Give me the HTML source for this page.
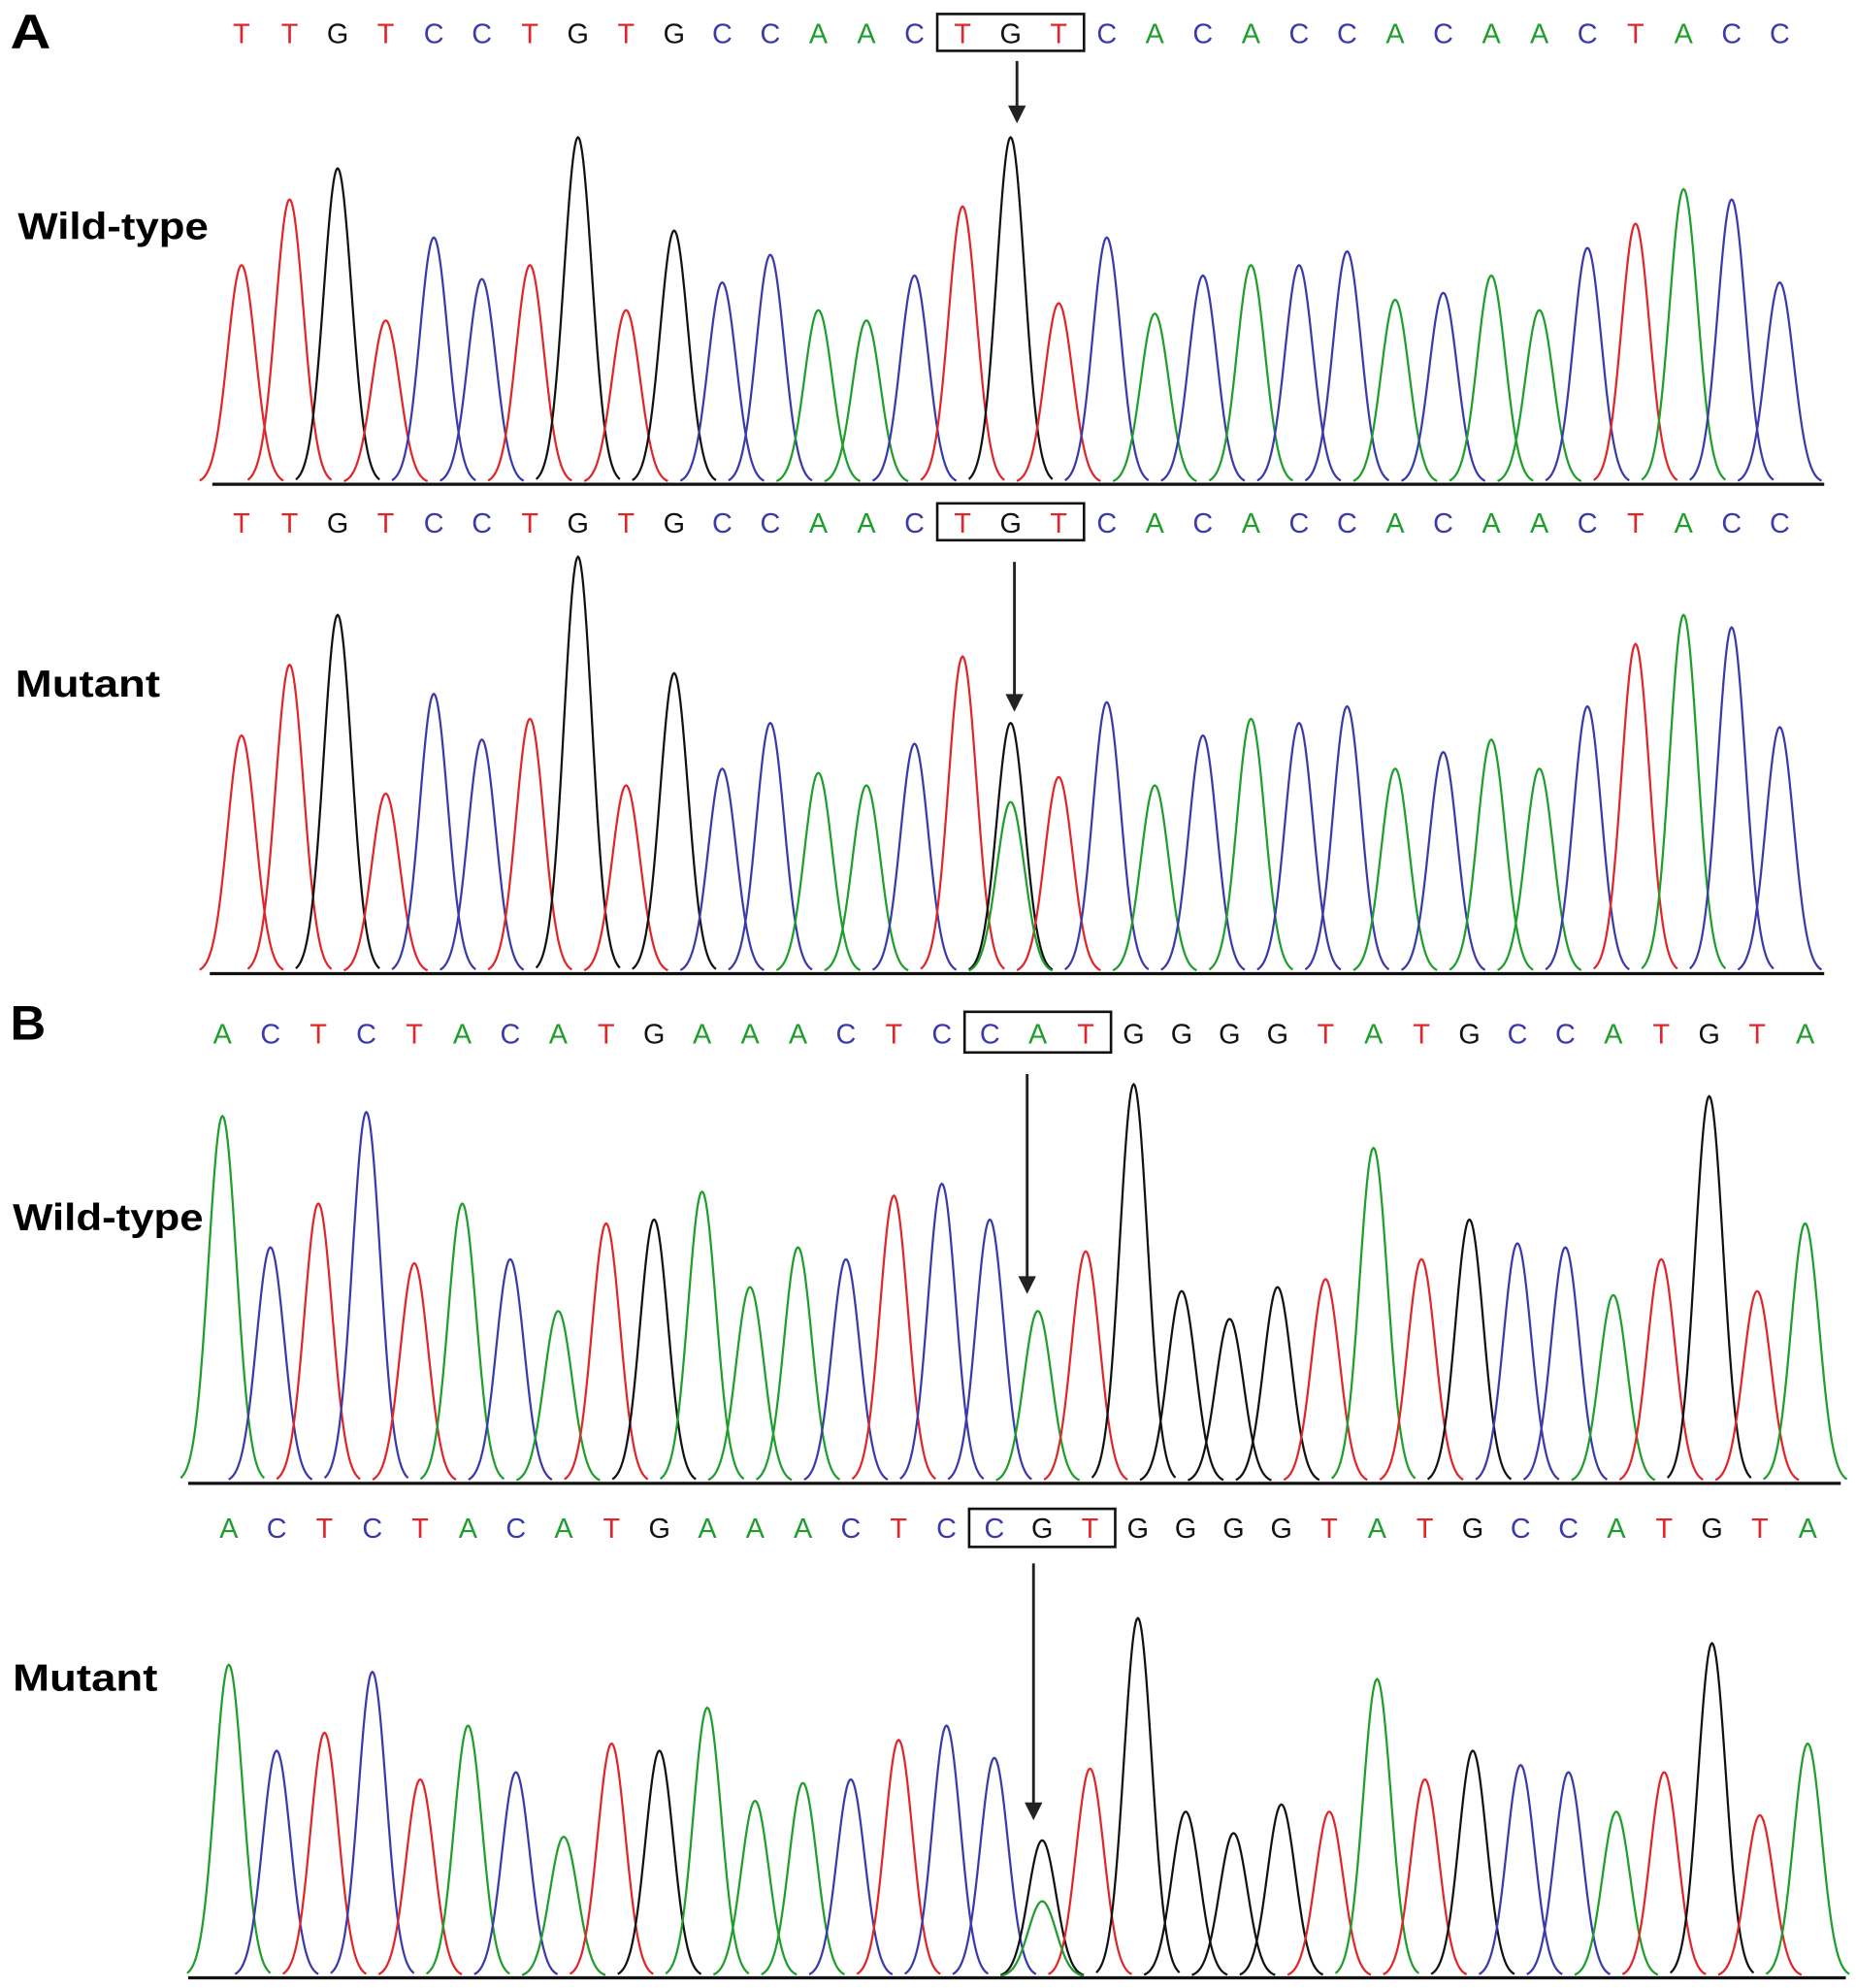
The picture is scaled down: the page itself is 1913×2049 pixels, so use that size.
<!DOCTYPE html>
<html><head><meta charset="utf-8"><style>
html,body{margin:0;padding:0;background:#fff}
svg{display:block}
</style></head><body>
<svg width="1913" height="2049" viewBox="0 0 1460 1564" preserveAspectRatio="none" xmlns="http://www.w3.org/2000/svg" id="fig">
<text x="8" y="38" font-family="Liberation Sans, sans-serif" font-weight="bold" font-size="38" textLength="32" lengthAdjust="spacingAndGlyphs">A</text>
<text x="8" y="818" font-family="Liberation Sans, sans-serif" font-weight="bold" font-size="38" textLength="28" lengthAdjust="spacingAndGlyphs">B</text>
<text x="14" y="188" font-family="Liberation Sans, sans-serif" font-weight="bold" font-size="30" textLength="150" lengthAdjust="spacingAndGlyphs">Wild-type</text>
<text x="12" y="548" font-family="Liberation Sans, sans-serif" font-weight="bold" font-size="30" textLength="114" lengthAdjust="spacingAndGlyphs">Mutant</text>
<text x="10" y="968" font-family="Liberation Sans, sans-serif" font-weight="bold" font-size="30" textLength="150" lengthAdjust="spacingAndGlyphs">Wild-type</text>
<text x="10" y="1330" font-family="Liberation Sans, sans-serif" font-weight="bold" font-size="30" textLength="114" lengthAdjust="spacingAndGlyphs">Mutant</text>
</svg>
<script>
// Sequences
const seqA = "TTGTCCTGTGCCAACTGTCACACCACAACTACC";
const seqB = "ACTCTACATGAAACTCCATGGGGTATGCCATGTA";
// Peak top heights (fraction of panel height)
const aWildHeights = [0.63,0.82,0.91,0.47,0.71,0.59,0.63,1.0,0.50,0.73,0.58,0.66,0.50,0.47,0.60,0.80,1.0,0.52,0.71,0.49,0.60,0.63,0.63,0.67,0.53,0.55,0.60,0.50,0.68,0.75,0.85,0.82,0.58];
const aMutHeights  = [0.57,0.74,0.86,0.43,0.67,0.56,0.61,1.0,0.45,0.72,0.49,0.60,0.48,0.45,0.55,0.76,0.60,0.47,0.65,0.45,0.57,0.61,0.60,0.64,0.49,0.53,0.56,0.49,0.64,0.79,0.86,0.83,0.59];
const aMutSecondary = [{i:16,base:"A",h:0.41}];
const bWildHeights = [0.92,0.59,0.70,0.93,0.55,0.70,0.56,0.43,0.65,0.66,0.73,0.49,0.59,0.56,0.72,0.75,0.66,0.43,0.58,1.0,0.48,0.41,0.49,0.51,0.84,0.56,0.66,0.60,0.59,0.47,0.56,0.97,0.48,0.65];
const bMutHeights  = [0.87,0.63,0.68,0.85,0.55,0.70,0.57,0.39,0.65,0.63,0.75,0.49,0.54,0.55,0.66,0.70,0.61,0.38,0.58,1.0,0.46,0.40,0.48,0.46,0.83,0.55,0.63,0.59,0.57,0.46,0.57,0.93,0.45,0.65];
const bMutSecondary = [{i:17,base:"A",h:0.21}];
const aWildCall = "TTGTCCTGTGCCAACTGTCACACCACAACTACC";
const aMutCall  = "TTGTCCTGTGCCAACTGTCACACCACAACTACC";
const bWildCall = "ACTCTACATGAAACTCCATGGGGTATGCCATGTA";
const bMutCall  = "ACTCTACATGAAACTCCGTGGGGTATGCCATGTA";
const bMutPeakBases = "ACTCTACATGAAACTCCGTGGGGTATGCCATGTA";

const COL = {A:"#1e9e2a",C:"#3a3aaa",G:"#111111",T:"#e0262a"};
const NS = "http://www.w3.org/2000/svg";
const svg = document.getElementById('fig');

const panels = [
 {id:"a-wildtype", seq:aWildCall, peaks:aWildCall, h:aWildHeights, sec:[], x0:190, x1:1400, ty:34, box:[15,17], boxY:11, boxH:29, arrowX:800, arrowY0:48, arrowY1:97, base:380, top:108, lx0:167, lx1:1435},
 {id:"a-mutant", seq:aMutCall, peaks:aMutCall, h:aMutHeights, sec:aMutSecondary, x0:190, x1:1400, ty:419, box:[15,17], boxY:396, boxH:29, arrowX:798, arrowY0:442, arrowY1:560, base:765, top:438, lx0:165, lx1:1435},
 {id:"b-wildtype", seq:bWildCall, peaks:bWildCall, h:bWildHeights, sec:[], x0:175, x1:1420, ty:821, box:[16,18], boxY:796, boxH:32, arrowX:808, arrowY0:845, arrowY1:1018, base:1166, top:853, lx0:148, lx1:1448},
 {id:"b-mutant", seq:bMutCall, peaks:bMutPeakBases, h:bMutHeights, sec:bMutSecondary, x0:180, x1:1422, ty:1210, box:[16,18], boxY:1187, boxH:30, arrowX:813, arrowY0:1230, arrowY1:1432, base:1555, top:1273, lx0:148, lx1:1452}
];

function mk(tag, attrs){const e=document.createElementNS(NS,tag);for(const k in attrs)e.setAttribute(k,attrs[k]);return e;}

panels.forEach(p=>{
  const n = p.seq.length;
  const xs = i => p.x0 + (p.x1-p.x0)*i/(n-1);
  const ys = v => p.base - v*(p.base-p.top);
  const step = (p.x1-p.x0)/(n-1);
  const g = mk('g',{});
  
  
  svg.appendChild(g);
  for(let i=0;i<n;i++){
    const t = mk('text',{x:xs(i),y:p.ty,'text-anchor':'middle','font-family':'Liberation Sans, sans-serif','font-size':'22',fill:COL[p.seq[i]]});
    
    
    t.textContent = p.seq[i];
    g.appendChild(t);
  }
  const bx0 = xs(p.box[0]) - step/2 - 1, bx1 = xs(p.box[1]) + step/2 + 1;
  const r = mk('rect',{x:bx0,y:p.boxY,width:bx1-bx0,height:p.boxH,fill:'none',stroke:'#111','stroke-width':'2'});
  
  
  g.appendChild(r);
  const ar = mk('line',{x1:p.arrowX,y1:p.arrowY0,x2:p.arrowX,y2:p.arrowY1-10,stroke:'#222','stroke-width':'2.2'});
  
  
  g.appendChild(ar);
  const ah = mk('polygon',{points:`${p.arrowX-7},${p.arrowY1-14} ${p.arrowX+7},${p.arrowY1-14} ${p.arrowX},${p.arrowY1}`,fill:'#222'});
  
  
  g.appendChild(ah);
  const sig = step*0.29;
  function peak(cx, v, color, name){
    let d='';
    for(let k=-40;k<=40;k++){
      const x = cx + k*sig*3.0/40;
      const z = (x-cx)/sig;
      const y = ys(v*Math.exp(-0.5*z*z));
      d += (k===-40?'M':'L')+x.toFixed(2)+','+y.toFixed(2)+' ';
    }
    const pa = mk('path',{d:d,fill:'none',stroke:color,'stroke-width':'1.7'});
    
    
    g.appendChild(pa);
  }
  for(let i=0;i<n;i++) peak(xs(i), p.h[i], COL[p.peaks[i]], p.id+'-peak');
  p.sec.forEach(s=>peak(xs(s.i), s.h, COL[s.base], p.id+'-secondary-peak'));
  const bl = mk('line',{x1:p.lx0,y1:p.base+1,x2:p.lx1,y2:p.base+1,stroke:'#111','stroke-width':'2.5'});
  
  
  g.appendChild(bl);
});
</script>
</body></html>
